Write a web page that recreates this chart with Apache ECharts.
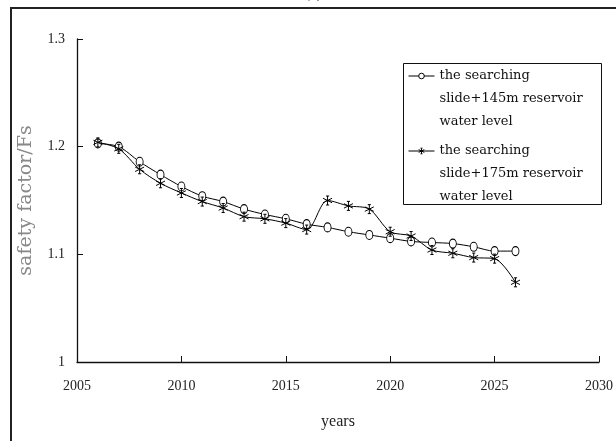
<!DOCTYPE html>
<html>
<head>
<meta charset="utf-8">
<script src="https://cdn.jsdelivr.net/npm/echarts@6/dist/echarts.min.js"></script>
<style>
  html, body { margin: 0; padding: 0; background: #fff; }
  #chart { width: 616px; height: 441px; }
</style>
</head>
<body>
<div id="chart"></div>
<script>
// Safety factor of the searching slide over time, two reservoir water levels
const years = [2006, 2007, 2008, 2009, 2010, 2011, 2012, 2013, 2014, 2015, 2016,
               2017, 2018, 2019, 2020, 2021, 2022, 2023, 2024, 2025, 2026];
const fs145 = [1.203, 1.200, 1.186, 1.174, 1.163, 1.154, 1.149, 1.142, 1.137, 1.133, 1.128,
               1.125, 1.121, 1.118, 1.115, 1.112, 1.111, 1.110, 1.107, 1.103, 1.103];
const fs175 = [1.204, 1.198, 1.179, 1.166, 1.157, 1.149, 1.143, 1.135, 1.133, 1.129, 1.123,
               1.150, 1.145, 1.142, 1.121, 1.117, 1.104, 1.101, 1.097, 1.096, 1.074];
const seriesNames = [
  'the searching\nslide+145m reservoir\nwater level',
  'the searching\nslide+175m reservoir\nwater level'
];
const xTicks = { min: 2005, max: 2030, interval: 5 };
const yTicks = { min: 1, max: 1.3, interval: 0.1 };

const SERIF = '"Liberation Serif", "Times New Roman", serif';
const WIDE_SERIF = '"DejaVu Serif", "Liberation Serif", serif';
const LINE_H = 23;
// thin open ring and asterisk markers
const RING = 'path://M0 5 A4 5 0 1 0 8 5 A4 5 0 1 0 0 5 Z';
const STAR = 'path://M5 0 L5 10 M0.7 2.5 L9.3 7.5 M0.7 7.5 L9.3 2.5 M3.5 0 L6.5 0 M3.5 10 L6.5 10';

const chart = echarts.init(document.getElementById('chart'), null, { renderer: 'canvas' });

// Legend text is centred on its icon, so two empty lines are put in front
// to bring the first line level with the icon.
function legendFor(name, firstLineY) {
  return {
    data: [name],
    orient: 'vertical',
    left: 408,
    top: firstLineY - 2.5 * LINE_H,
    padding: 0,
    itemWidth: 26,
    itemHeight: 7,
    selectedMode: false,
    formatter: n => '\n\n' + n,
    itemStyle: { borderWidth: 1 },
    lineStyle: { width: 1 },
    textStyle: {
      fontFamily: WIDE_SERIF, fontSize: 13, color: '#111',
      lineHeight: LINE_H
    }
  };
}

chart.setOption({
  animation: false,
  backgroundColor: '#fff',
  title: {
    text: '(a)',
    left: 305,
    top: -13,
    padding: 0,
    textStyle: { fontFamily: SERIF, fontSize: 15, fontWeight: 'normal', color: '#444' }
  },
  graphic: [
    { type: 'rect', shape: { x: 11, y: 8, width: 640, height: 460 },
      style: { fill: null, stroke: '#222', lineWidth: 2 }, silent: true },
    { type: 'rect', shape: { x: 403.5, y: 63.5, width: 198, height: 141 },
      style: { fill: null, stroke: '#111', lineWidth: 1 }, silent: true, z: 10 }
  ],
  legend: [legendFor(seriesNames[0], 76), legendFor(seriesNames[1], 151)],
  grid: { left: 77, right: 15, top: 39, bottom: 79 },
  xAxis: {
    type: 'value',
    min: xTicks.min, max: xTicks.max, interval: xTicks.interval,
    name: 'years',
    nameLocation: 'middle',
    nameGap: 52,
    nameTextStyle: { fontFamily: SERIF, fontSize: 16, color: '#222' },
    axisLine: { lineStyle: { color: '#111', width: 1.3 } },
    axisTick: { inside: true, length: 6, lineStyle: { color: '#111' } },
    axisLabel: { fontFamily: SERIF, fontSize: 14, color: '#222', margin: 17,
                 showMaxLabel: true, showMinLabel: true,
                 formatter: v => String(v) },
    splitLine: { show: false }
  },
  yAxis: {
    type: 'value',
    min: yTicks.min, max: yTicks.max, interval: yTicks.interval,
    name: 'safety factor/Fs',
    nameLocation: 'middle',
    nameGap: 41,
    nameTextStyle: { fontFamily: WIDE_SERIF, fontSize: 19, color: '#888' },
    axisLine: { lineStyle: { color: '#111', width: 1.3 } },
    axisTick: { inside: true, length: 6, lineStyle: { color: '#111' } },
    axisLabel: { fontFamily: SERIF, fontSize: 14, color: '#222', margin: 12,
                 formatter: v => String(Math.round(v * 10) / 10) },
    splitLine: { show: false }
  },
  series: [
    {
      name: seriesNames[0],
      type: 'line',
      smooth: 0.3,
      data: years.map((y, i) => [y, fs145[i]]),
      symbol: RING,
      symbolSize: [7, 9],
      lineStyle: { color: '#000', width: 1 },
      itemStyle: { color: '#fff', borderColor: '#000', borderWidth: 1 },
      z: 3
    },
    {
      name: seriesNames[1],
      type: 'line',
      smooth: 0.3,
      data: years.map((y, i) => [y, fs175[i]]),
      symbol: STAR,
      symbolSize: [9, 9],
      lineStyle: { color: '#000', width: 1 },
      itemStyle: { color: '#000', borderColor: '#000', borderWidth: 1 },
      z: 4
    }
  ]
});
</script>
</body>
</html>
